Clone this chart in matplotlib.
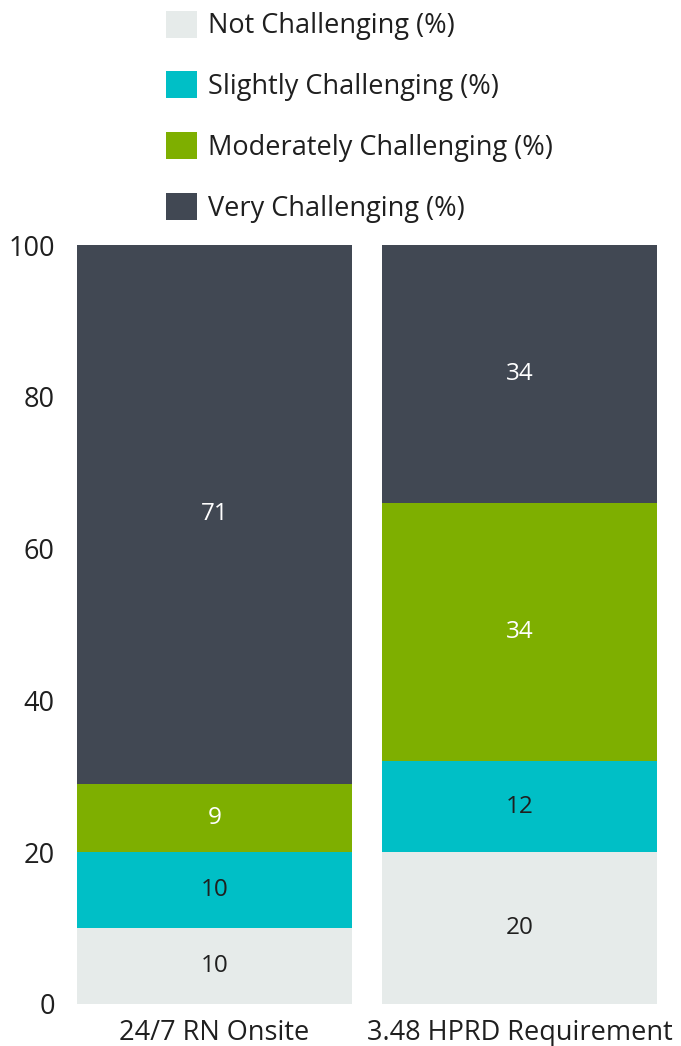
import matplotlib
matplotlib.use("Agg")
import matplotlib.pyplot as plt
from matplotlib.patches import Patch
import numpy as np

plt.rcParams['font.family'] = ['Open Sans', 'DejaVu Sans']

categories = ["24/7 RN Onsite", "3.48 HPRD Requirement"]
series_names = ["Not Challenging (%)", "Slightly Challenging (%)",
                "Moderately Challenging (%)", "Very Challenging (%)"]
not_challenging = [10, 20]
slightly_challenging = [10, 12]
moderately_challenging = [9, 34]
very_challenging = [71, 34]
y_ticks = [0, 20, 40, 60, 80, 100]

series = [not_challenging, slightly_challenging, moderately_challenging, very_challenging]
colors = ["#E6EBEA", "#00BFC6", "#7EAF00", "#414853"]
label_colors = ["#1f1f1f", "#1f1f1f", "#ffffff", "#ffffff"]

W, H = 681, 1046
fig = plt.figure(figsize=(W / 100, H / 100), dpi=100)
ax = fig.add_axes([77 / W, 42 / H, (657 - 77) / W, (1004 - 245) / H])

x = np.arange(len(categories))
bottom = np.zeros(len(categories))
for vals, col, lc in zip(series, colors, label_colors):
    vals = np.array(vals, dtype=float)
    bars = ax.bar(x, vals, width=0.9, bottom=bottom, color=col, linewidth=0)
    for rect, v, b in zip(bars, vals, bottom):
        ax.text(rect.get_x() + rect.get_width() / 2, b + v / 2, f"{int(v)}",
                ha="center", va="center", fontsize=17.5, color=lc)
    bottom += vals

ax.set_xlim(-0.45, 1.45)
ax.set_ylim(0, 100)
ax.set_yticks(y_ticks)
ax.set_xticks(x)
ax.set_xticklabels(categories)
ax.tick_params(axis="both", length=0, labelsize=19.5, colors="#1f1f1f")
ax.tick_params(axis="y", pad=16)
ax.tick_params(axis="x", pad=11)
for s in ax.spines.values():
    s.set_visible(False)

handles = [Patch(facecolor=c, edgecolor="none") for c in colors]
fig.legend(handles, series_names, loc="upper left",
           bbox_to_anchor=(144 / W, 1 + 11 / H), frameon=False,
           fontsize=19.5, handlelength=1.15, handleheight=1.15,
           labelspacing=1.15, handletextpad=0.4, borderpad=0.3,
           labelcolor="#1f1f1f")

fig.savefig("out.png", dpi=100)
